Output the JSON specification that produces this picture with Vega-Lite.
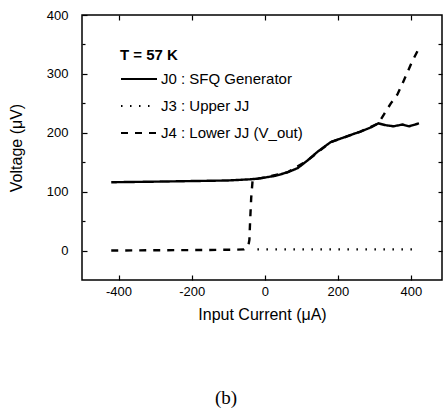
{
  "$schema": "https://vega.github.io/schema/vega-lite/v6.json",
  "width": 360,
  "height": 265,
  "autosize": "none",
  "padding": {"left": 82, "top": 15, "right": 5, "bottom": 134},
  "background": "white",
  "config": {
    "view": {"stroke": "black", "strokeWidth": 1.5},
    "font": "Liberation Sans",
    "axis": {"grid": false, "domain": false, "tickColor": "black", "labelColor": "black", "titleColor": "black", "labelFont": "Liberation Sans", "titleFont": "Liberation Sans", "titleFontWeight": "normal", "tickWidth": 1.2}
  },
  "title": {"text": "(b)", "orient": "bottom", "font": "Liberation Serif", "fontSize": 19, "fontWeight": "normal", "color": "black", "offset": 67, "dx": -36},
  "data": {"values": [
    {"series": "J0 : SFQ Generator", "i": -420, "v": 116},
    {"series": "J0 : SFQ Generator", "i": -300, "v": 117},
    {"series": "J0 : SFQ Generator", "i": -200, "v": 118},
    {"series": "J0 : SFQ Generator", "i": -100, "v": 119},
    {"series": "J0 : SFQ Generator", "i": -40, "v": 121},
    {"series": "J0 : SFQ Generator", "i": -20, "v": 122},
    {"series": "J0 : SFQ Generator", "i": 0, "v": 124},
    {"series": "J0 : SFQ Generator", "i": 30, "v": 127},
    {"series": "J0 : SFQ Generator", "i": 63, "v": 133},
    {"series": "J0 : SFQ Generator", "i": 90, "v": 140},
    {"series": "J0 : SFQ Generator", "i": 117, "v": 153},
    {"series": "J0 : SFQ Generator", "i": 145, "v": 168},
    {"series": "J0 : SFQ Generator", "i": 180, "v": 184},
    {"series": "J0 : SFQ Generator", "i": 243, "v": 198},
    {"series": "J0 : SFQ Generator", "i": 262, "v": 202},
    {"series": "J0 : SFQ Generator", "i": 290, "v": 209},
    {"series": "J0 : SFQ Generator", "i": 311, "v": 216},
    {"series": "J0 : SFQ Generator", "i": 330, "v": 213},
    {"series": "J0 : SFQ Generator", "i": 352, "v": 211},
    {"series": "J0 : SFQ Generator", "i": 377, "v": 214},
    {"series": "J0 : SFQ Generator", "i": 395, "v": 211},
    {"series": "J0 : SFQ Generator", "i": 422, "v": 216},
    {"series": "J3 : Upper JJ", "i": -20, "v": 2},
    {"series": "J3 : Upper JJ", "i": 412, "v": 2},
    {"series": "J4 : Lower JJ (V_out)", "i": -420, "v": 0},
    {"series": "J4 : Lower JJ (V_out)", "i": -300, "v": 0.5},
    {"series": "J4 : Lower JJ (V_out)", "i": -150, "v": 1},
    {"series": "J4 : Lower JJ (V_out)", "i": -80, "v": 1.5},
    {"series": "J4 : Lower JJ (V_out)", "i": -57, "v": 2},
    {"series": "J4 : Lower JJ (V_out)", "i": -45, "v": 8},
    {"series": "J4 : Lower JJ (V_out)", "i": -42, "v": 18},
    {"series": "J4 : Lower JJ (V_out)", "i": -40, "v": 50},
    {"series": "J4 : Lower JJ (V_out)", "i": -37, "v": 90},
    {"series": "J4 : Lower JJ (V_out)", "i": -33, "v": 121},
    {"series": "J4 : Lower JJ (V_out)", "i": 0, "v": 124},
    {"series": "J4 : Lower JJ (V_out)", "i": 63, "v": 133},
    {"series": "J4 : Lower JJ (V_out)", "i": 117, "v": 153},
    {"series": "J4 : Lower JJ (V_out)", "i": 180, "v": 184},
    {"series": "J4 : Lower JJ (V_out)", "i": 262, "v": 202},
    {"series": "J4 : Lower JJ (V_out)", "i": 311, "v": 216},
    {"series": "J4 : Lower JJ (V_out)", "i": 325, "v": 230},
    {"series": "J4 : Lower JJ (V_out)", "i": 345, "v": 250},
    {"series": "J4 : Lower JJ (V_out)", "i": 363, "v": 265},
    {"series": "J4 : Lower JJ (V_out)", "i": 380, "v": 288},
    {"series": "J4 : Lower JJ (V_out)", "i": 404, "v": 322},
    {"series": "J4 : Lower JJ (V_out)", "i": 424, "v": 346}
  ]},
  "resolve": {"axis": {"x": "independent", "y": "independent"}},
  "layer": [
    {
      "mark": {"type": "point", "opacity": 0},
      "encoding": {
        "x": {"field": "i", "type": "quantitative", "scale": {"domain": [-500, 485], "nice": false, "zero": false},
              "axis": {"orient": "top", "values": [-400, -200, 0, 200, 400], "labels": false, "tickSize": -5, "title": null}},
        "y": {"field": "v", "type": "quantitative", "scale": {"domain": [-50, 400], "nice": false, "zero": false},
              "axis": {"orient": "right", "values": [0, 50, 100, 150, 200, 250, 300, 350], "labels": false, "tickSize": -4, "title": null}}
      }
    },
    {
      "mark": {"type": "point", "opacity": 0},
      "encoding": {
        "x": {"field": "i", "type": "quantitative", "axis": null},
        "y": {"field": "v", "type": "quantitative",
              "axis": {"orient": "left", "values": [50, 150, 250, 350], "labels": false, "tickSize": -3, "title": null}}
      }
    },
    {
      "mark": {"type": "line", "color": "black", "strokeWidth": 2.4, "strokeCap": "butt"},
      "encoding": {
        "x": {"field": "i", "type": "quantitative",
              "axis": {"orient": "bottom", "values": [-400, -200, 0, 200, 400], "labelExpr": "datum.value + ''", "tickSize": -5, "labelPadding": 10, "labelFontSize": 13, "title": "Input Current (\u03bcA)", "titleFontSize": 16, "titlePadding": 8}},
        "y": {"field": "v", "type": "quantitative",
              "axis": {"orient": "left", "values": [0, 100, 200, 300, 400], "labelExpr": "datum.value + ''", "tickSize": -5, "labelPadding": 19, "labelFontSize": 13, "title": "Voltage (\u03bcV)", "titleFontSize": 16, "titlePadding": 22}},
        "strokeDash": {"field": "series", "type": "nominal",
          "scale": {"domain": ["J0 : SFQ Generator", "J3 : Upper JJ", "J4 : Lower JJ (V_out)"], "range": [[1, 0], [1.5, 7.5], [7, 7]]},
          "legend": {"orient": "none", "legendX": 38, "legendY": 33, "title": "T = 57 K", "titleFontSize": 15, "titleFont": "Liberation Sans", "titleFontWeight": "bold", "titleColor": "black", "titlePadding": -3, "labelFontSize": 15, "labelFont": "Liberation Sans", "labelColor": "black", "labelOffset": 3, "symbolType": "stroke", "symbolSize": 1296, "symbolStrokeWidth": 2, "symbolStrokeColor": "black", "rowPadding": -11, "padding": 0}
        },
        "order": {"field": "series", "sort": "descending"}
      }
    }
  ]
}
